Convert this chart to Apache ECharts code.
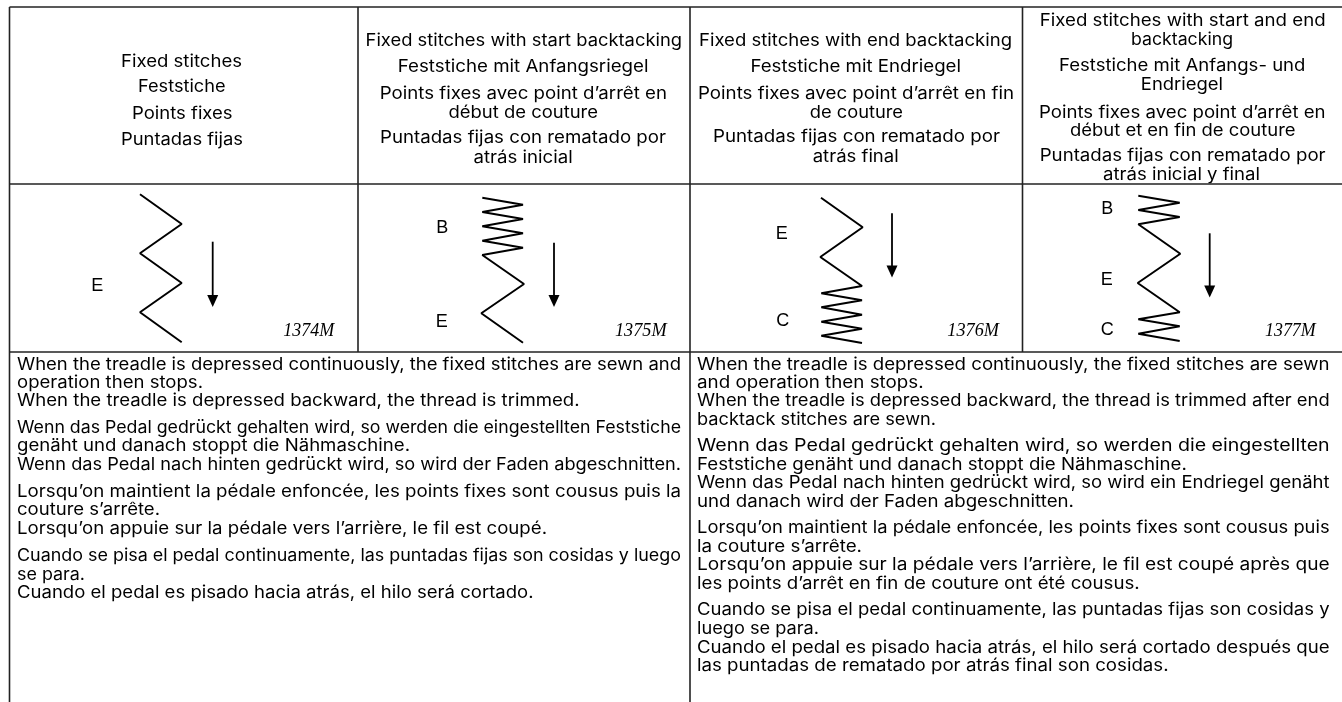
<!DOCTYPE html>
<html>
<head>
<meta charset="utf-8">
<title>Fixed stitches</title>
<style>
  html, body { margin: 0; padding: 0; background: #fff; }
  #main { width: 1342px; height: 702px; }
</style>
<script src="https://cdn.jsdelivr.net/npm/echarts@6/dist/echarts.min.js"></script>
</head>
<body>
<div id="main"></div>
<script>
// table rules, [x1, y1, x2, y2]
const ruleLines = [
  [9.5, 7, 1342, 7], [9.5, 184, 1342, 184], [9.5, 352, 1342, 352],
  [9.5, 7, 9.5, 702], [358, 7, 358, 352], [690, 7, 690, 702], [1022.5, 7, 1022.5, 352]
];

// stitch patterns, one polyline per panel
const stitches1374 = [[140, 194.3], [181.7, 224], [140, 253.3], [181.7, 283], [140, 312.3], [181.7, 342.3]];
const stitches1375 = [[482.3, 197.7], [523, 204.7], [482.3, 212], [523, 219], [482.3, 226.3], [523, 233.3], [482.3, 240.7], [523, 247.7], [482.3, 255], [524, 284], [481.3, 313.3], [523, 342.7]];
const stitches1376 = [[821, 197.7], [862.7, 227.3], [820.3, 257], [862, 286], [821.3, 293.3], [862, 300.3], [821.3, 307.3], [862, 314.7], [821.3, 321.7], [862, 328.7], [821.3, 335.7], [862, 343]];
const stitches1377 = [[1138.3, 195.7], [1179.7, 202.7], [1138.3, 210], [1179.7, 217], [1138.3, 224.3], [1180.3, 253.7], [1137.7, 283], [1179.7, 312.3], [1138.3, 319.3], [1179.7, 326.3], [1138.3, 333.7], [1179.7, 341]];

// sewing direction arrows, [x, yStart, yHead]
const arrows = [[212.7, 241.7, 301], [554, 242.7, 301], [892, 213.3, 271.5], [1209.7, 233.3, 291.5]];

// header texts, [text, left, right, y]
const headerLines = [
  ['Fixed stitches', 121, 242, 60.7],
  ['Feststiche', 138, 225.5, 86],
  ['Points fixes', 132, 232.6, 112.7],
  ['Puntadas fijas', 121, 243, 139.3],
  ['Fixed stitches with start backtacking', 365.6, 682, 40],
  ['Feststiche mit Anfangsriegel', 397.8, 648.5, 66],
  ['Points fixes avec point d’arrêt en', 379.7, 667, 92.7],
  ['début de couture', 448.5, 598, 111.7],
  ['Puntadas fijas con rematado por', 380, 666, 137.3],
  ['atrás inicial', 473.5, 572.7, 156.7],
  ['Fixed stitches with end backtacking', 699, 1012, 40],
  ['Feststiche mit Endriegel', 750.4, 961, 66],
  ['Points fixes avec point d’arrêt en fin', 698, 1014, 93.3],
  ['de couture', 809.7, 903, 111.7],
  ['Puntadas fijas con rematado por', 713, 1000, 136],
  ['atrás final', 812.7, 898.7, 156],
  ['Fixed stitches with start and end', 1039.7, 1325.6, 20],
  ['backtacking', 1131, 1233, 39.3],
  ['Feststiche mit Anfangs- und', 1059, 1305.4, 65.3],
  ['Endriegel', 1140.8, 1223, 84.3],
  ['Points fixes avec point d’arrêt en', 1039, 1325.6, 111.7],
  ['début et en fin de couture', 1070, 1295.5, 130],
  ['Puntadas fijas con rematado por', 1039.7, 1325.6, 155],
  ['atrás inicial y final', 1103, 1260, 174]
];

// body texts, [text, left, right, y]
const bodyLines = [
  ['When the treadle is depressed continuously, the fixed stitches are sewn and', 17, 681, 365],
  ['operation then stops.', 17, 203, 383.3],
  ['When the treadle is depressed backward, the thread is trimmed.', 17, 579.5, 401],
  ['Wenn das Pedal gedrückt gehalten wird, so werden die eingestellten Feststiche', 17, 681, 427.7],
  ['genäht und danach stoppt die Nähmaschine.', 17, 410, 446],
  ['Wenn das Pedal nach hinten gedrückt wird, so wird der Faden abgeschnitten.', 17, 681, 465],
  ['Lorsqu’on maintient la pédale enfoncée, les points fixes sont cousus puis la', 17, 681, 491.7],
  ['couture s’arrête.', 17, 160, 510],
  ['Lorsqu’on appuie sur la pédale vers l’arrière, le fil est coupé.', 17, 547, 528.5],
  ['Cuando se pisa el pedal continuamente, las puntadas fijas son cosidas y luego', 17, 681, 556],
  ['se para.', 17, 85, 574.5],
  ['Cuando el pedal es pisado hacia atrás, el hilo será cortado.', 17, 533.5, 593],
  ['When the treadle is depressed continuously, the fixed stitches are sewn', 697, 1329.6, 365],
  ['and operation then stops.', 697, 923.6, 383.3],
  ['When the treadle is depressed backward, the thread is trimmed after end', 697, 1329.6, 401],
  ['backtack stitches are sewn.', 697, 936, 420],
  ['Wenn das Pedal gedrückt gehalten wird, so werden die eingestellten', 697, 1329.6, 446],
  ['Feststiche genäht und danach stoppt die Nähmaschine.', 697, 1186.8, 464.5],
  ['Wenn das Pedal nach hinten gedrückt wird, so wird ein Endriegel genäht', 697, 1329.6, 483],
  ['und danach wird der Faden abgeschnitten.', 697, 1074, 501.5],
  ['Lorsqu’on maintient la pédale enfoncée, les points fixes sont cousus puis', 697, 1329.6, 528],
  ['la couture s’arrête.', 697, 862, 546.5],
  ['Lorsqu’on appuie sur la pédale vers l’arrière, le fil est coupé après que', 697, 1329.6, 565],
  ['les points d’arrêt en fin de couture ont été cousus.', 697, 1139.7, 583.5],
  ['Cuando se pisa el pedal continuamente, las puntadas fijas son cosidas y', 697, 1329.6, 610],
  ['luego se para.', 697, 819, 629],
  ['Cuando el pedal es pisado hacia atrás, el hilo será cortado después que', 697, 1329.6, 647.5],
  ['las puntadas de rematado por atrás final son cosidas.', 697, 1168.6, 666]
];

// stitch section letters, [text, x, y]
const stitchLabels = [
  ['E', 97.3, 284.7], ['B', 442.3, 227.3], ['E', 441.7, 321.3], ['E', 781.7, 233.3],
  ['C', 782.7, 320.3], ['B', 1107.3, 208.3], ['E', 1106.7, 278.7], ['C', 1107.3, 329]
];

// figure numbers, [text, left, right, y]
const figureCodes = [
  ['1374M', 283.3, 334.3, 331], ['1375M', 615, 666.7, 331],
  ['1376M', 947.3, 999, 331], ['1377M', 1265, 1315.7, 331]
];

const sansFont = 'Inter, "Liberation Sans", sans-serif';
const serifFont = '"Liberation Serif", serif';
const ctx = document.createElement('canvas').getContext('2d');

// text squeezed or stretched to the width it has in the picture
function fittedText(line, font, shiftY) {
  ctx.font = font;
  const natural = ctx.measureText(line[0]).width;
  return {
    type: 'text',
    x: line[1],
    y: line[3] + shiftY,
    scaleX: (line[2] - line[1]) / natural,
    silent: true,
    style: { text: line[0], font: font, fill: '#000', textAlign: 'left', textVerticalAlign: 'middle' }
  };
}

function stitchSeries(points) {
  return { type: 'line', data: points, showSymbol: false, silent: true, animation: false,
    lineStyle: { color: '#000', width: 2, join: 'bevel' } };
}

const elements = [];
headerLines.forEach(function (l) { elements.push(fittedText(l, '17px ' + sansFont, 1)); });
bodyLines.forEach(function (l) { elements.push(fittedText(l, '17px ' + sansFont, 0)); });
figureCodes.forEach(function (l) { elements.push(fittedText(l, 'italic 18px ' + serifFont, 0)); });
stitchLabels.forEach(function (l) {
  elements.push({ type: 'text', x: l[1], y: l[2] + 1, silent: true,
    style: { text: l[0], font: '18px "Liberation Sans", sans-serif', fill: '#000', textAlign: 'center', textVerticalAlign: 'middle' } });
});

const series = [];
ruleLines.forEach(function (r) {
  series.push({ type: 'line', data: [[r[0], r[1]], [r[2], r[3]]], showSymbol: false, silent: true, animation: false,
    lineStyle: { color: '#222', width: 1.6 } });
});
[stitches1374, stitches1375, stitches1376, stitches1377].forEach(function (s) { series.push(stitchSeries(s)); });
arrows.forEach(function (a) {
  series.push({ type: 'line', silent: true, animation: false, showAllSymbol: true,
    data: [
      { value: [a[0], a[1]], symbol: 'none' },
      { value: [a[0], a[2]], symbol: 'triangle', symbolSize: [11, 12], symbolRotate: 180 }
    ],
    lineStyle: { color: '#000', width: 1.8 }, itemStyle: { color: '#000' } });
});

const chart = echarts.init(document.getElementById('main'));
chart.setOption({
  animation: false,
  backgroundColor: '#fff',
  grid: { left: 0, right: 0, top: 0, bottom: 0 },
  xAxis: { type: 'value', min: 0, max: 1342, show: false },
  yAxis: { type: 'value', min: 0, max: 702, inverse: true, show: false },
  graphic: { elements: elements },
  series: series
});
</script>
</body>
</html>
